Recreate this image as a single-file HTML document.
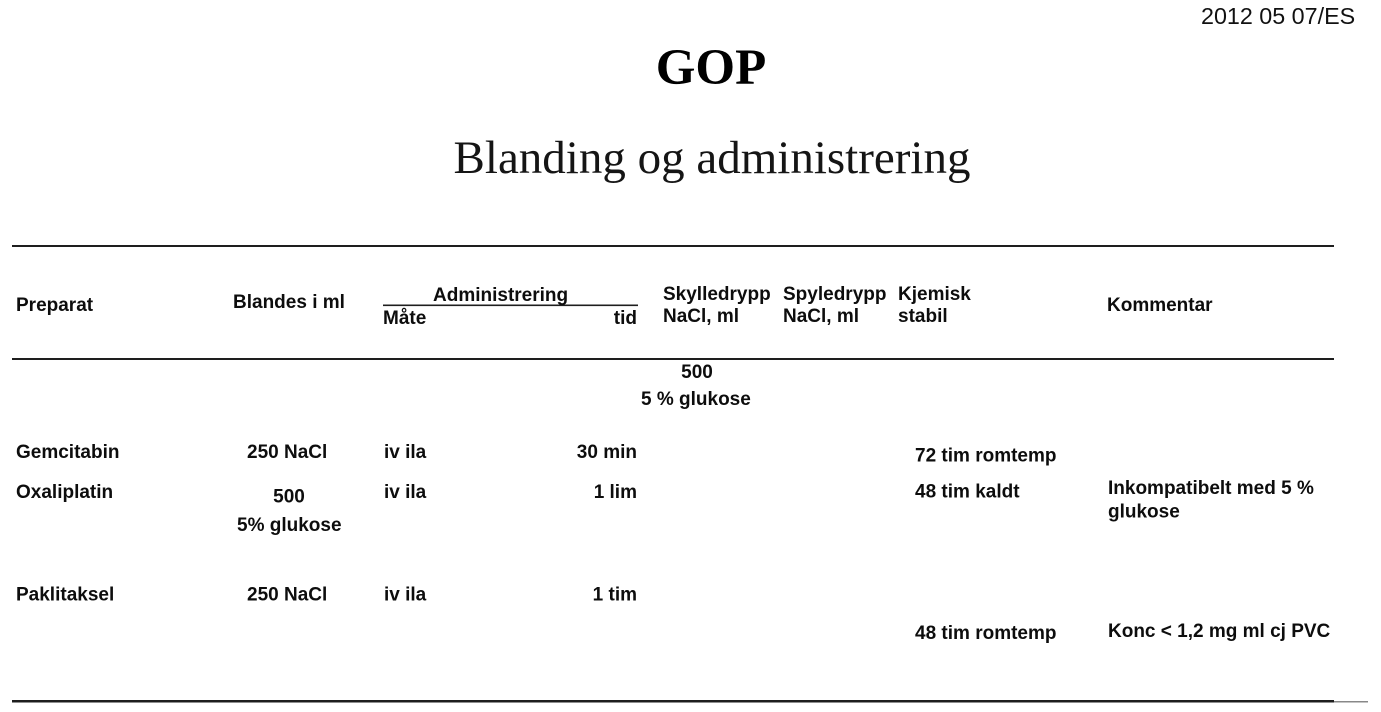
<!DOCTYPE html>
<html>
<head>
<meta charset="utf-8">
<style>
  html, body { margin: 0; padding: 0; background: #ffffff; }
  body { width: 1381px; height: 712px; overflow: hidden; }
  svg { display: block; }
  .b { font-family: "Liberation Sans", Arial, sans-serif; font-weight: bold; font-size: 19px; fill: #0d0d0d; }
</style>
</head>
<body>
<svg width="1381" height="712" viewBox="0 0 1381 712" xmlns="http://www.w3.org/2000/svg">
  <rect x="0" y="0" width="1381" height="712" fill="#ffffff"/>

  <!-- date -->
  <text x="1201" y="24" font-family="Liberation Sans, Arial, sans-serif" font-size="23.3" fill="#111">2012 05 07/ES</text>

  <!-- titles -->
  <text x="711" y="84" text-anchor="middle" font-family="Liberation Serif, Times New Roman, serif" font-weight="bold" font-size="51" fill="#000">GOP</text>
  <text x="712" y="173" text-anchor="middle" font-family="Liberation Serif, Times New Roman, serif" font-size="47" fill="#151515">Blanding og administrering</text>

  <!-- rules -->
  <rect x="12" y="245" width="1322" height="2" fill="#1e1e1e"/>
  <rect x="12" y="358" width="1322" height="2" fill="#1e1e1e"/>
  <rect x="12" y="700" width="1322" height="2.5" fill="#1e1e1e"/>
  <rect x="1334" y="701" width="34" height="1.5" fill="#888"/>
  <rect x="383" y="304.5" width="255" height="1.6" fill="#1e1e1e"/>

  <!-- header -->
  <text class="b" x="16" y="311">Preparat</text>
  <text class="b" x="233" y="308">Blandes i ml</text>
  <text class="b" x="433" y="301">Administrering</text>
  <text class="b" x="383" y="324">Måte</text>
  <text class="b" x="637" y="324" text-anchor="end">tid</text>
  <text class="b" x="663" y="300">Skylledrypp</text>
  <text class="b" x="663" y="322">NaCl, ml</text>
  <text class="b" x="783" y="300">Spyledrypp</text>
  <text class="b" x="783" y="322">NaCl, ml</text>
  <text class="b" x="898" y="300">Kjemisk</text>
  <text class="b" x="898" y="322">stabil</text>
  <text class="b" x="1107" y="311">Kommentar</text>

  <!-- body -->
  <text class="b" x="697" y="378" text-anchor="middle">500</text>
  <text class="b" x="641" y="405">5 % glukose</text>

  <text class="b" x="16" y="458">Gemcitabin</text>
  <text class="b" x="247" y="458">250 NaCl</text>
  <text class="b" x="384" y="458">iv ila</text>
  <text class="b" x="637" y="458" text-anchor="end">30 min</text>
  <text class="b" x="915" y="461.5">72 tim romtemp</text>

  <text class="b" x="16" y="498">Oxaliplatin</text>
  <text class="b" x="289" y="502.5" text-anchor="middle">500</text>
  <text class="b" x="237" y="531">5% glukose</text>
  <text class="b" x="384" y="498">iv ila</text>
  <text class="b" x="637" y="498" text-anchor="end">1 lim</text>
  <text class="b" x="915" y="497.7">48 tim kaldt</text>
  <text class="b" x="1108" y="494">Inkompatibelt med 5 %</text>
  <text class="b" x="1108" y="517.7">glukose</text>

  <text class="b" x="16" y="600.7">Paklitaksel</text>
  <text class="b" x="247" y="600.7">250 NaCl</text>
  <text class="b" x="384" y="600.7">iv ila</text>
  <text class="b" x="637" y="600.7" text-anchor="end">1 tim</text>

  <text class="b" x="915" y="639">48 tim romtemp</text>
  <text class="b" x="1108" y="637">Konc &lt; 1,2 mg ml cj PVC</text>
</svg>
</body>
</html>
